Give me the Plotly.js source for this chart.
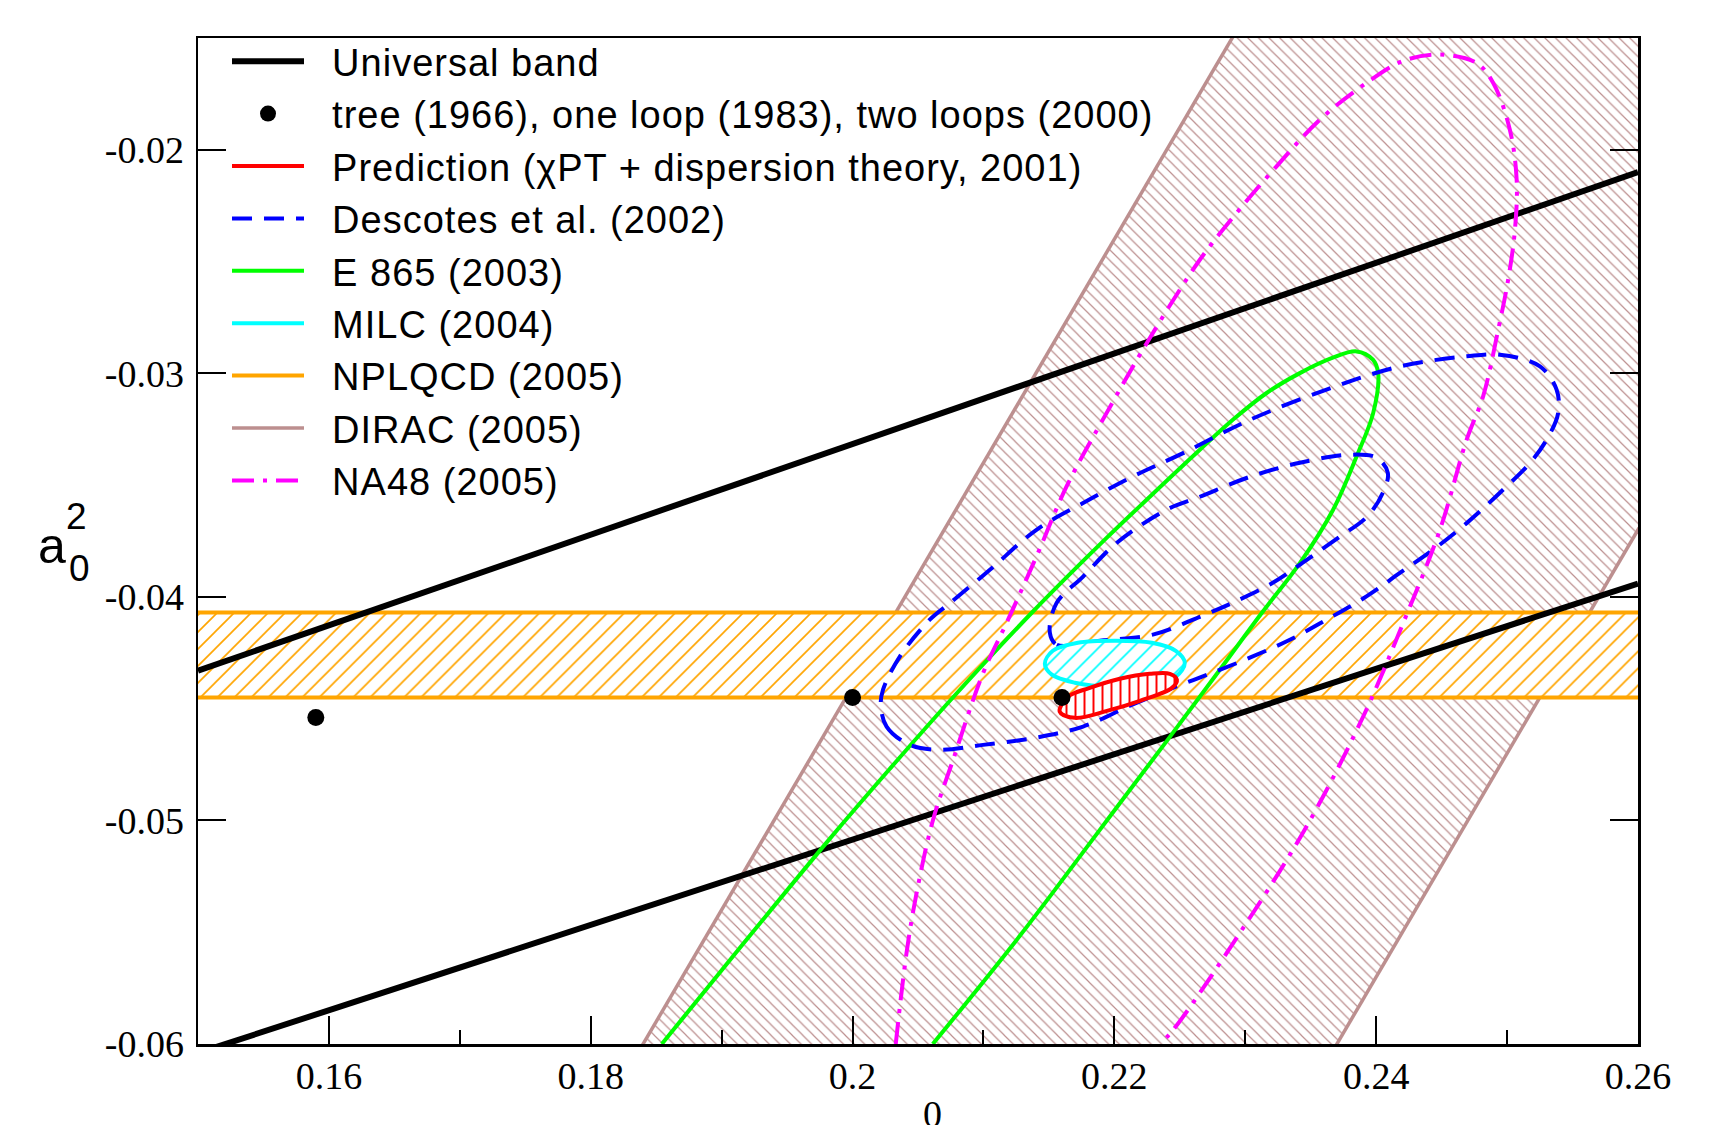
<!DOCTYPE html>
<html><head><meta charset="utf-8">
<script src="https://cdn.plot.ly/plotly-3.0.1.min.js"></script>
<style>html,body{margin:0;padding:0;background:#fff;} #chart{width:1718px;height:1125px;} .legendtext{letter-spacing:1px;}</style>
</head><body><div id="chart"></div>
<script>
// ---------- axis ticks ----------
const xTickVals = [0.16, 0.18, 0.20, 0.22, 0.24, 0.26];
const xTickText = ['0.16', '0.18', '0.2', '0.22', '0.24', '0.26'];
const xMinorVals = [0.17, 0.19, 0.21, 0.23, 0.25];
const yTickVals = [-0.06, -0.05, -0.04, -0.03, -0.02];
const yTickText = ['-0.06', '-0.05', '-0.04', '-0.03', '-0.02'];

// ---------- series ----------
const universalUpperX = [0.15, 0.26];
const universalUpperY = [-0.0433, -0.0210];
const universalLowerX = [0.15, 0.26];
const universalLowerY = [-0.0604, -0.0394];

const loopsX = [0.159, 0.200, 0.216];
const loopsY = [-0.0454, -0.0445, -0.0445];

const nplqcdX = [0.15, 0.26, 0.26, 0.15];
const nplqcdY = [-0.0407, -0.0407, -0.0445, -0.0445];

const diracX = [0.183, 0.230, 0.283, 0.236];
const diracY = [-0.061, -0.014, -0.014, -0.061];

const e865X = [0.18543, 0.19177, 0.19819, 0.20285, 0.20751, 0.21369, 0.21927, 0.22271, 0.22653, 0.22905, 0.23163, 0.23417, 0.23669, 0.23850, 0.23975, 0.24015, 0.23977, 0.23850, 0.23671, 0.23417, 0.23127, 0.22806, 0.22424, 0.21889, 0.21278, 0.20613];
const e865Y = [-0.0600, -0.05543, -0.05087, -0.04769, -0.04460, -0.04071, -0.03744, -0.03552, -0.03342, -0.03208, -0.03088, -0.02999, -0.02930, -0.02902, -0.02939, -0.02999, -0.03178, -0.03372, -0.03610, -0.03849, -0.04071, -0.04326, -0.04626, -0.05042, -0.05516, -0.0600];

const descOuterX = [0.20216, 0.20260, 0.20437, 0.20667, 0.20997, 0.21379, 0.21761, 0.22118, 0.22447, 0.22729, 0.23035, 0.23341, 0.23621, 0.23926, 0.24181, 0.24435, 0.24691, 0.24996, 0.25174, 0.25302, 0.25390, 0.25378, 0.25251, 0.24945, 0.24691, 0.24181, 0.23621, 0.23035, 0.22525, 0.22143, 0.21761, 0.21405, 0.21049, 0.20743, 0.20590, 0.20361, 0.20233, 0.20216];
const descOuterY = [-0.04483, -0.04580, -0.04662, -0.04684, -0.04662, -0.04632, -0.04580, -0.04487, -0.04407, -0.04344, -0.04272, -0.04192, -0.04102, -0.03998, -0.03893, -0.03789, -0.03670, -0.03506, -0.03401, -0.03297, -0.03178, -0.03073, -0.02969, -0.02917, -0.02924, -0.02969, -0.03073, -0.03208, -0.03357, -0.03461, -0.03580, -0.03700, -0.03879, -0.04028, -0.04102, -0.04267, -0.04415, -0.04483];

const descInnerX = [0.21507, 0.21560, 0.21889, 0.22294, 0.22653, 0.22905, 0.23210, 0.23470, 0.23722, 0.23929, 0.24051, 0.24089, 0.24005, 0.23799, 0.23417, 0.23035, 0.22653, 0.22399, 0.22017, 0.21761, 0.21558, 0.21507];
const descInnerY = [-0.04160, -0.04214, -0.04196, -0.04169, -0.04089, -0.04026, -0.03937, -0.03834, -0.03731, -0.03642, -0.03534, -0.03445, -0.03378, -0.03364, -0.03400, -0.03463, -0.03552, -0.03610, -0.03759, -0.03909, -0.04028, -0.04160];

const na48X = [0.2033, 0.20412, 0.20489, 0.20615, 0.20768, 0.20997, 0.21176, 0.21405, 0.21635, 0.21940, 0.22271, 0.22653, 0.22933, 0.23239, 0.23570, 0.23926, 0.24200, 0.24487, 0.24767, 0.24894, 0.25021, 0.25073, 0.25060, 0.25008, 0.24932, 0.24817, 0.24691, 0.24487, 0.24206, 0.23901, 0.23468, 0.22958, 0.22449, 0.22347];
const na48Y = [-0.0600, -0.05594, -0.05325, -0.04997, -0.04729, -0.04341, -0.04117, -0.03819, -0.03506, -0.03178, -0.02842, -0.02492, -0.02283, -0.02074, -0.01865, -0.01701, -0.01604, -0.01574, -0.01612, -0.01701, -0.01910, -0.02134, -0.02357, -0.02581, -0.02805, -0.03103, -0.03297, -0.03700, -0.04117, -0.04535, -0.05027, -0.05504, -0.05937, -0.0600];

const milcX = [0.22538, 0.22469, 0.22271, 0.21981, 0.21698, 0.21522, 0.21469, 0.21530, 0.21721, 0.22004, 0.22286, 0.22469, 0.22538];
const milcY = [-0.04295, -0.04357, -0.04393, -0.04402, -0.04384, -0.04348, -0.04299, -0.04241, -0.04205, -0.04196, -0.04205, -0.04241, -0.04295];

const predX = [0.21583, 0.21644, 0.21812, 0.22042, 0.22271, 0.22424, 0.22478, 0.22440, 0.22195, 0.21943, 0.21698, 0.21583];
const predY = [-0.04514, -0.04447, -0.04407, -0.04366, -0.04344, -0.04344, -0.04371, -0.04407, -0.04465, -0.04510, -0.04541, -0.04514];

const legendNames = [
  'Universal band',
  'tree (1966), one loop (1983), two loops (2000)',
  'Prediction (\u03c7PT + dispersion theory, 2001)',
  'Descotes et al. (2002)',
  'E 865 (2003)',
  'MILC (2004)',
  'NPLQCD (2005)',
  'DIRAC (2005)',
  'NA48 (2005)'
];

// ---------- styles ----------
const C = {
  black: '#000000', red: '#ff0000', blue: '#0000ff', green: '#00ff00',
  cyan: '#00ffff', orange: '#ffa500', brown: '#bc8f8f', magenta: '#ff00ff'
};
const pad = '\u00a0\u00a0';
const spl = {shape: 'spline', smoothing: 1};

const traces = [];
// DIRAC band (hatched)
traces.push({x: diracX.concat([diracX[0]]), y: diracY.concat([diracY[0]]), mode: 'lines', fill: 'toself',
  line: {width: 0, color: C.brown}, fillcolor: 'rgba(0,0,0,0)',
  fillpattern: {shape: '\\', fgcolor: C.brown, bgcolor: 'rgba(0,0,0,0)', size: 7.5, solidity: 0.16},
  showlegend: false, hoverinfo: 'skip'});
traces.push({x: diracX.slice(0, 2), y: diracY.slice(0, 2), mode: 'lines', line: {color: C.brown, width: 3.5},
  name: pad + legendNames[7], legendrank: 8});
traces.push({x: diracX.slice(2, 4), y: diracY.slice(2, 4), mode: 'lines', line: {color: C.brown, width: 3.5}, showlegend: false});
// NPLQCD band
traces.push({x: nplqcdX.concat([nplqcdX[0]]), y: nplqcdY.concat([nplqcdY[0]]), mode: 'lines', fill: 'toself',
  line: {width: 0, color: C.orange}, fillcolor: 'white',
  fillpattern: {shape: '/', fgcolor: C.orange, bgcolor: 'white', size: 12, solidity: 0.14},
  showlegend: false, hoverinfo: 'skip'});
traces.push({x: nplqcdX.slice(0, 2), y: nplqcdY.slice(0, 2), mode: 'lines', line: {color: C.orange, width: 4},
  name: pad + legendNames[6], legendrank: 7});
traces.push({x: nplqcdX.slice(2, 4), y: nplqcdY.slice(2, 4), mode: 'lines', line: {color: C.orange, width: 4}, showlegend: false});
// Universal band
traces.push({x: universalUpperX, y: universalUpperY, mode: 'lines', line: {color: C.black, width: 6},
  name: pad + legendNames[0], legendrank: 1});
traces.push({x: universalLowerX, y: universalLowerY, mode: 'lines', line: {color: C.black, width: 6}, showlegend: false});
// E865
traces.push({x: e865X, y: e865Y, mode: 'lines', line: Object.assign({color: C.green, width: 4}, spl),
  name: pad + legendNames[4], legendrank: 5});
// Descotes
traces.push({x: descOuterX, y: descOuterY, mode: 'lines', line: Object.assign({color: C.blue, width: 4, dash: '20px,12px'}, spl),
  name: pad + legendNames[3], legendrank: 4});
traces.push({x: descInnerX, y: descInnerY, mode: 'lines', line: Object.assign({color: C.blue, width: 4, dash: '20px,12px'}, spl),
  showlegend: false});
// NA48
traces.push({x: na48X, y: na48Y, mode: 'lines', line: Object.assign({color: C.magenta, width: 4, dash: '22px,9px,4px,9px'}, spl),
  name: pad + legendNames[8], legendrank: 9});
// MILC
traces.push({x: milcX, y: milcY, mode: 'lines', fill: 'toself', line: {width: 0, color: C.cyan}, fillcolor: 'white',
  fillpattern: {shape: '/', fgcolor: C.cyan, bgcolor: 'white', size: 12, solidity: 0.14},
  showlegend: false, hoverinfo: 'skip'});
traces.push({x: milcX, y: milcY, mode: 'lines', line: Object.assign({color: C.cyan, width: 4}, spl),
  name: pad + legendNames[5], legendrank: 6});
// Prediction
traces.push({x: predX, y: predY, mode: 'lines', fill: 'toself', line: {width: 0, color: C.red}, fillcolor: 'white',
  fillpattern: {shape: '|', fgcolor: C.red, bgcolor: 'white', size: 9, solidity: 0.22},
  showlegend: false, hoverinfo: 'skip'});
traces.push({x: predX, y: predY, mode: 'lines', line: Object.assign({color: C.red, width: 4}, spl),
  name: pad + legendNames[2], legendrank: 3});
// tree / one loop / two loops
traces.push({x: loopsX, y: loopsY, mode: 'markers', marker: {color: C.black, size: 17},
  name: pad + legendNames[1], legendrank: 2});

const serif = 'Liberation Serif, Times New Roman, serif';
const sans = 'Liberation Sans, Arial, sans-serif';
const PL = 198, PR = 1638, PT = 38, PB = 1044;
const px2paperX = p => (p - PL) / (PR - PL);
const px2paperY = p => (PB - p) / (PB - PT);

const layout = {
  width: 1718, height: 1125,
  margin: {l: PL, r: 1718 - PR, t: PT, b: 1125 - PB, pad: 0},
  paper_bgcolor: 'white', plot_bgcolor: 'white',
  showlegend: true,
  legend: {x: px2paperX(227), y: px2paperY(30), xanchor: 'left', yanchor: 'top',
    bgcolor: 'rgba(0,0,0,0)', borderwidth: 0, itemwidth: 72,
    font: {family: sans, size: 38, color: '#000'}, traceorder: 'normal', tracegroupgap: 0},
  xaxis: {range: [0.15, 0.26], tickmode: 'array', tickvals: xTickVals, ticktext: xTickText,
    ticks: 'inside', ticklen: 28, tickwidth: 2, tickcolor: '#000',
    minor: {tickmode: 'array', tickvals: xMinorVals, ticks: 'inside', ticklen: 14, tickwidth: 2, tickcolor: '#000', showgrid: false},
    showline: true, linewidth: 2.5, linecolor: '#000', mirror: true,
    showgrid: false, zeroline: false, tickfont: {family: serif, size: 38, color: '#000'}, ticklabelstandoff: -3},
  yaxis: {range: [-0.06, -0.015], tickmode: 'array', tickvals: yTickVals, ticktext: yTickText,
    ticks: 'inside', ticklen: 28, tickwidth: 2, tickcolor: '#000',
    showline: true, linewidth: 2.5, linecolor: '#000', mirror: 'ticks',
    showgrid: false, zeroline: false, tickfont: {family: serif, size: 38, color: '#000'}, ticklabelstandoff: 4},
  annotations: [
    {xref: 'paper', yref: 'paper', x: px2paperX(52), y: px2paperY(546), text: 'a', showarrow: false,
      xanchor: 'center', yanchor: 'middle', font: {family: sans, size: 50, color: '#000'}},
    {xref: 'paper', yref: 'paper', x: px2paperX(77), y: px2paperY(516), text: '2', showarrow: false,
      xanchor: 'center', yanchor: 'middle', font: {family: sans, size: 37, color: '#000'}},
    {xref: 'paper', yref: 'paper', x: px2paperX(79), y: px2paperY(568), text: '0', showarrow: false,
      xanchor: 'center', yanchor: 'middle', font: {family: sans, size: 37, color: '#000'}},
    {xref: 'paper', yref: 'paper', x: px2paperX(932), y: px2paperY(1091), text: '0', showarrow: false,
      xanchor: 'center', yanchor: 'top', font: {family: serif, size: 38, color: '#000'}}
  ]
};

Plotly.newPlot('chart', traces, layout, {displayModeBar: false, staticPlot: true});
</script></body></html>
